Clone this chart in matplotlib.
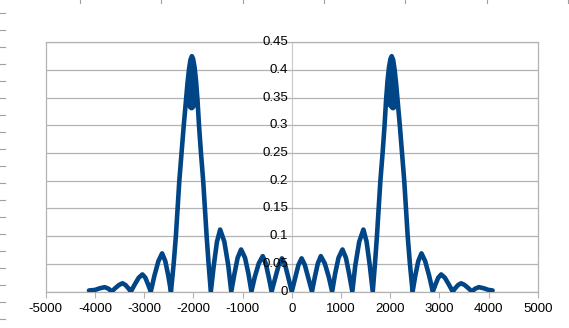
import matplotlib
matplotlib.use("Agg")
import matplotlib.pyplot as plt
from matplotlib.lines import Line2D
import matplotlib.transforms as mtransforms

plt.rcParams['font.family'] = ['Liberation Sans', 'DejaVu Sans']
plt.rcParams['axes.unicode_minus'] = False
plt.rcParams['path.simplify'] = False

# Frequency (x) and magnitude (y)
freq_neg = [
    -4120, -4000, -3900, -3800, -3720, -3660,
    -3590, -3510, -3440, -3380, -3320, -3270,
    -3190, -3110, -3035, -2975, -2920, -2865,
    -2790, -2710, -2635, -2570, -2510, -2455,
    -2400, -2355, -2320, -2285, -2240, -2195,
    -2150, -2120, -2090, -2060, -2030, -2005, -1975, -1945, -1915,
    -1885, -1845, -1800, -1765, -1730, -1690, -1645,
    -1585, -1520, -1455, -1370, -1290, -1230,
    -1165, -1100, -1030, -950, -880, -820,
    -750, -670, -590, -530, -470, -410,
    -335, -265, -200, -135, -70,
]
mag_neg = [
    0.002, 0.003, 0.006, 0.008, 0.005, 0.000,
    0.006, 0.012, 0.015, 0.012, 0.006, 0.000,
    0.013, 0.025, 0.031, 0.025, 0.013, 0.000,
    0.029, 0.055, 0.069, 0.055, 0.029, 0.000,
    0.050, 0.100, 0.150, 0.200, 0.250, 0.300,
    0.345, 0.375, 0.400, 0.418, 0.425, 0.420, 0.405, 0.380, 0.345,
    0.300, 0.250, 0.200, 0.150, 0.100, 0.050, 0.000,
    0.047, 0.090, 0.112, 0.090, 0.047, 0.000,
    0.032, 0.061, 0.076, 0.061, 0.032, 0.000,
    0.027, 0.051, 0.064, 0.051, 0.027, 0.000,
    0.025, 0.048, 0.060, 0.048, 0.025,
]
freq_pos = [
    0, 70, 135, 200, 265, 335, 410,
    470, 530, 590, 670, 750, 820,
    880, 950, 1030, 1100, 1165, 1230,
    1290, 1370, 1455, 1520, 1585, 1645,
    1690, 1730, 1765, 1800, 1845, 1885,
    1915, 1945, 1975, 2005, 2030, 2060, 2090, 2120, 2150,
    2195, 2240, 2285, 2320, 2355, 2400, 2455,
    2510, 2570, 2635, 2710, 2790, 2865,
    2920, 2975, 3035, 3110, 3190, 3270,
    3320, 3380, 3440, 3510, 3590, 3660,
    3720, 3800, 3900, 4000, 4080,
]
mag_pos = [
    0.000, 0.025, 0.048, 0.060, 0.048, 0.025, 0.000,
    0.027, 0.051, 0.064, 0.051, 0.027, 0.000,
    0.032, 0.061, 0.076, 0.061, 0.032, 0.000,
    0.047, 0.090, 0.112, 0.090, 0.047, 0.000,
    0.050, 0.100, 0.150, 0.200, 0.250, 0.300,
    0.345, 0.380, 0.405, 0.420, 0.425, 0.418, 0.400, 0.375, 0.345,
    0.300, 0.250, 0.200, 0.150, 0.100, 0.050, 0.000,
    0.029, 0.055, 0.069, 0.055, 0.029, 0.000,
    0.013, 0.025, 0.031, 0.025, 0.013, 0.000,
    0.006, 0.012, 0.015, 0.012, 0.006, 0.000,
    0.005, 0.008, 0.006, 0.003, 0.002,
]

# band swept by the fast oscillation near each main peak (low / high edge)
fuzz_freq_neg = [-2150, -2120, -2090, -2060, -2030, -2005, -1975, -1945, -1915]
fuzz_low_neg = [0.345, 0.335, 0.332, 0.330, 0.330, 0.332, 0.335, 0.338, 0.345]
fuzz_high_neg = [0.345, 0.375, 0.400, 0.418, 0.425, 0.420, 0.405, 0.380, 0.345]
fuzz_freq_pos = [1915, 1945, 1975, 2005, 2030, 2060, 2090, 2120, 2150]
fuzz_low_pos = [0.345, 0.338, 0.335, 0.332, 0.330, 0.330, 0.332, 0.335, 0.345]
fuzz_high_pos = [0.345, 0.380, 0.405, 0.420, 0.425, 0.418, 0.400, 0.375, 0.345]

x_ticks = [-5000, -4000, -3000, -2000, -1000, 0, 1000, 2000, 3000, 4000, 5000]
x_labels = ["-5000", "-4000", "-3000", "-2000", "-1000", "0", "1000", "2000", "3000", "4000", "5000"]
y_ticks = [0, 0.05, 0.1, 0.15, 0.2, 0.25, 0.3, 0.35, 0.4, 0.45]
y_labels = ["0", "0.05", "0.1", "0.15", "0.2", "0.25", "0.3", "0.35", "0.4", "0.45"]

LINE = "#004586"
GRID = "#b3b3b3"

fig = plt.figure(figsize=(5.69, 3.28), dpi=100)
ax = fig.add_axes([0.0803, 0.111, 0.865, 0.760])

ax.plot(freq_neg + freq_pos, mag_neg + mag_pos, color=LINE, lw=3.3,
        solid_joinstyle='round', solid_capstyle='round', zorder=3)
ax.fill_between(fuzz_freq_neg, fuzz_low_neg, fuzz_high_neg, color=LINE, lw=1.5, zorder=3)
ax.fill_between(fuzz_freq_pos, fuzz_low_pos, fuzz_high_pos, color=LINE, lw=1.5, zorder=3)

ax.set_xlim(-5000, 5000)
ax.set_ylim(0, 0.45)
ax.set_xticks(x_ticks)
ax.set_xticklabels(x_labels, fontsize=9.5)
ax.set_yticks(y_ticks)
ax.tick_params(axis='y', left=False, labelleft=False)
ax.tick_params(axis='x', direction='out', length=4, width=0.8, color=GRID, pad=4.5)
ax.grid(axis='y', color=GRID, lw=0.9, zorder=0)
ax.axvline(0, color="#cccccc", lw=0.9, zorder=1)
for s in ax.spines.values():
    s.set_color(GRID)
    s.set_linewidth(0.9)

offset = mtransforms.offset_copy(ax.transData, fig=fig, x=-2.5, y=0, units='points')
for v, lab in zip(y_ticks, y_labels):
    ax.text(0, v, lab, transform=offset, ha='right', va='center', fontsize=9.5,
            color='black', zorder=4, clip_on=False)

# spreadsheet edge marks (decoration)
W, H = 569, 328
for yy in range(13, 328, 17):
    fig.add_artist(Line2D([0, 5 / W], [1 - yy / H, 1 - yy / H], color="#a0a0a0", lw=0.8))
for xx in [79.5, 161, 243, 324, 405, 486.5, 568]:
    fig.add_artist(Line2D([xx / W, xx / W], [1, 1 - 3 / H], color="#a0a0a0", lw=0.8))

fig.savefig("out.png", dpi=100)
